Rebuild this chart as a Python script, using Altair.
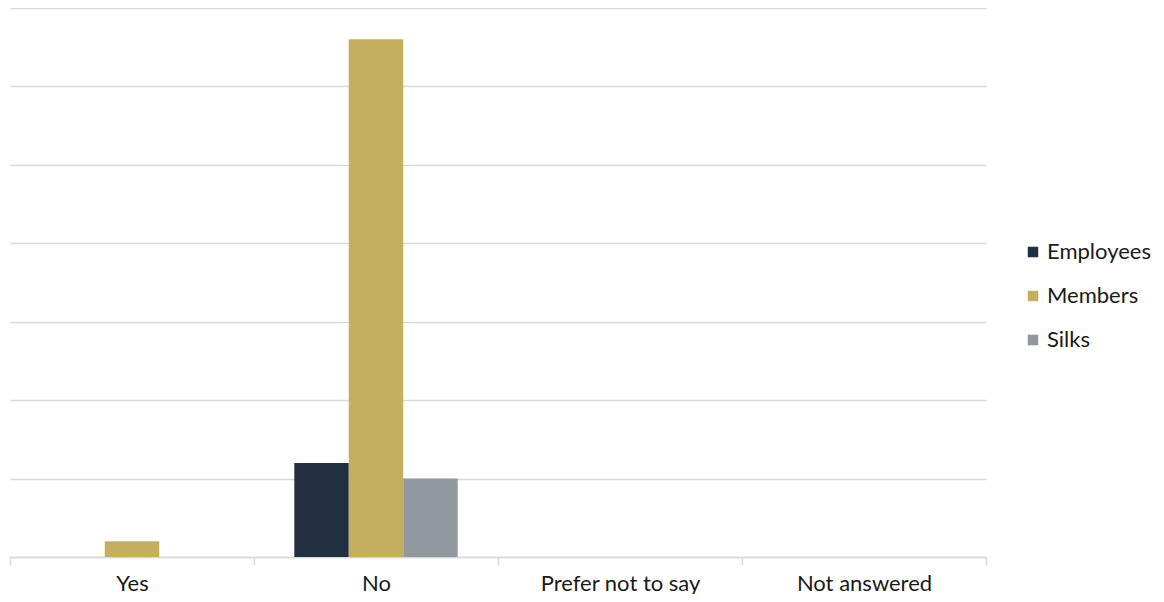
import altair as alt
import pandas as pd

categories = ["Yes", "No", "Prefer not to say", "Not answered"]
series = ["Employees", "Members", "Silks"]
employees = [0, 6, 0, 0]
members = [1, 33, 0, 0]
silks = [0, 5, 0, 0]
colors = ["#222f41", "#c3af5f", "#92989f"]

rows = []
for name, vals in zip(series, [employees, members, silks]):
    for c, v in zip(categories, vals):
        rows.append({"Category": c, "Series": name, "Value": v})
df = pd.DataFrame(rows)

FONT = "Lato"

chart = alt.Chart(df).mark_bar().encode(
    x=alt.X("Category:N", sort=categories, title=None,
            scale=alt.Scale(paddingInner=0, paddingOuter=0),
            axis=alt.Axis(labelAngle=0, labelFontSize=22, labelColor="#1a1a1a",
                          labelFont=FONT, domainColor="#d9d9d9", domainWidth=1.5,
                          tickColor="#d9d9d9", tickWidth=1.5, tickSize=8,
                          tickBand="extent", labelPadding=8)),
    xOffset=alt.XOffset("Series:N", sort=series,
                        scale=alt.Scale(paddingInner=0, paddingOuter=0.74)),
    y=alt.Y("Value:Q", title=None,
            scale=alt.Scale(domain=[0, 35], nice=False),
            axis=alt.Axis(values=[0, 5, 10, 15, 20, 25, 30, 35], labels=False,
                          ticks=False, domain=False, grid=True,
                          gridColor="#d9d9d9", gridWidth=1.5)),
    color=alt.Color("Series:N", sort=series,
                    scale=alt.Scale(domain=series, range=colors),
                    legend=alt.Legend(title=None, orient="none", legendX=1012,
                                      legendY=233, symbolType="square",
                                      symbolSize=110, symbolStrokeWidth=0,
                                      labelFontSize=22, labelFont=FONT,
                                      labelColor="#1a1a1a", rowPadding=22,
                                      labelOffset=3, padding=0)),
).properties(
    width=976, height=549,
    padding={"left": 1, "top": 0, "right": 0, "bottom": 0},
).configure(background="white").configure_view(stroke=None, strokeWidth=0)

chart.save("out.html", embed_options={"renderer": "svg", "actions": False})
